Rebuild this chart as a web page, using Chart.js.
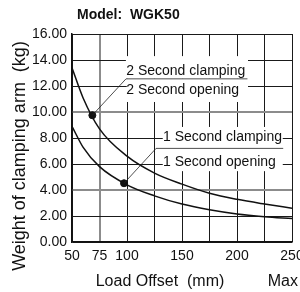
<!DOCTYPE html>
<html>
<head>
<meta charset="utf-8">
<script src="https://cdn.jsdelivr.net/npm/chart.js@4.4.0/dist/chart.umd.min.js"></script>
<style>
  body { margin: 0; background: #fff; }
  #wrap { width: 300px; height: 292px; }
</style>
</head>
<body>
<div id="wrap"><canvas id="myChart" width="300" height="292"></canvas></div>
<script>
// values
var loadOffset = [50, 60, 75, 100, 125, 150, 175, 200, 225, 250];
var twoSecond = [13.4, 11.1, 8.7, 6.6, 5.3, 4.45, 3.75, 3.28, 2.92, 2.6];
var oneSecond = [8.9, 7.3, 5.8, 4.4, 3.55, 2.92, 2.48, 2.16, 1.95, 1.8];
var markerX = [68.5, 97.3];
var markerY = [9.75, 4.52];
var xTickLabels = [50, 75, 100, 150, 200, 250];
var noteText = [
    ['2 Second clamping', '2 Second opening'],
    ['1 Second clamping', '1 Second opening']
];

var FONT = '"Liberation Sans", Arial, sans-serif';

function toPoints(xs, ys) {
    return xs.map(function (x, i) { return { x: x, y: ys[i] }; });
}

// leader lines + labels, placed in data units
var notes = [
    { point: 0, elbow: [99.1, 12.55], lineEnd: 209.5, textX: 99.3, textY: [13.18, 11.69],
      boxes: [[99.0, 210, 14.3, 12.55], [99.8, 210, 12.55, 10.77]] },
    { point: 1, elbow: [126.4, 7.2], lineEnd: 242, textX: 132.7, textY: [8.08, 6.15],
      boxes: [[132.5, 241.6, 8.85, 5.45]] }
];

var notePlugin = {
    id: 'notes',
    afterDatasetsDraw: function (chart) {
        var ctx = chart.ctx;
        var xs = chart.scales.x, ys = chart.scales.y;
        ctx.save();
        notes.forEach(function (n, k) {
            ctx.fillStyle = '#fff';
            n.boxes.forEach(function (b) {
                var x0 = xs.getPixelForValue(b[0]), x1 = xs.getPixelForValue(b[1]);
                var y0 = ys.getPixelForValue(b[2]), y1 = ys.getPixelForValue(b[3]);
                ctx.fillRect(x0, y0, x1 - x0, y1 - y0);
            });
            var px = xs.getPixelForValue(markerX[n.point]);
            var py = ys.getPixelForValue(markerY[n.point]);
            var ex = xs.getPixelForValue(n.elbow[0]);
            var ey = ys.getPixelForValue(n.elbow[1]);
            var lx = xs.getPixelForValue(n.lineEnd);
            ctx.strokeStyle = '#222';
            ctx.lineWidth = 0.8;
            ctx.beginPath();
            ctx.moveTo(px, py);
            ctx.lineTo(ex, ey);
            ctx.lineTo(lx, ey);
            ctx.stroke();
            ctx.fillStyle = '#111';
            ctx.font = '14px ' + FONT;
            ctx.textAlign = 'left';
            ctx.textBaseline = 'middle';
            var tx = xs.getPixelForValue(n.textX);
            noteText[k].forEach(function (t, j) {
                ctx.fillText(t, tx, ys.getPixelForValue(n.textY[j]));
            });
        });
        ctx.restore();
    },
    afterDraw: function (chart) {
        var ctx = chart.ctx;
        var a = chart.chartArea;
        ctx.save();
        ctx.fillStyle = '#111';
        ctx.textBaseline = 'middle';
        // title
        ctx.font = 'bold 14px ' + FONT;
        ctx.textAlign = 'left';
        ctx.fillText('Model:  WGK50', a.left + 5, 15);
        // x axis title
        ctx.font = '16px ' + FONT;
        ctx.textAlign = 'center';
        ctx.fillText('Load Offset  (mm)', a.left + 88, 282);
        ctx.textAlign = 'right';
        ctx.fillText('Max', chart.width - 2, 282);
        // y axis title
        ctx.translate(20, 156);
        ctx.rotate(-Math.PI / 2);
        ctx.font = '18px ' + FONT;
        ctx.textAlign = 'center';
        ctx.fillText('Weight of clamping arm  (kg)', 0, 0);
        ctx.restore();
    }
};

var ctx = document.getElementById('myChart').getContext('2d');
var myChart = new Chart(ctx, {
    type: 'line',
    data: {
        datasets: [
            {
                label: '2 Second',
                data: toPoints(loadOffset, twoSecond),
                borderColor: '#111',
                borderWidth: 1.5,
                pointRadius: 0,
                cubicInterpolationMode: 'monotone'
            },
            {
                label: '1 Second',
                data: toPoints(loadOffset, oneSecond),
                borderColor: '#111',
                borderWidth: 1.5,
                pointRadius: 0,
                cubicInterpolationMode: 'monotone'
            },
            {
                type: 'scatter',
                label: 'points',
                data: toPoints(markerX, markerY),
                backgroundColor: '#111',
                borderColor: '#111',
                pointRadius: 3.5
            }
        ]
    },
    options: {
        responsive: false,
        animation: false,
        layout: {
            padding: { top: 34, right: 8, bottom: 0, left: 0 }
        },
        plugins: {
            legend: { display: false },
            title: { display: false },
            tooltip: { enabled: false }
        },
        scales: {
            x: {
                type: 'linear',
                min: 50,
                max: 250,
                afterFit: function (scale) {
                    scale.height = 50;
                    scale.paddingLeft = 0;
                    scale.paddingRight = 0;
                },
                ticks: {
                    stepSize: 25,
                    autoSkip: false,
                    maxRotation: 0,
                    padding: 6,
                    color: '#111',
                    font: { family: FONT, size: 14 },
                    callback: function (v) {
                        return xTickLabels.indexOf(v) >= 0 ? String(v) : '';
                    }
                },
                grid: {
                    drawTicks: false,
                    color: function (c) { return c.tick && c.tick.value === 75 ? '#8c8c8c' : '#1a1a1a'; },
                    lineWidth: function (c) { return c.tick && c.tick.value === 75 ? 2 : 1; }
                },
                border: { color: '#111', width: 1.5 }
            },
            y: {
                min: 0,
                max: 16,
                afterFit: function (scale) {
                    scale.width = 72;
                },
                ticks: {
                    stepSize: 2,
                    padding: 5,
                    color: '#111',
                    font: { family: FONT, size: 14 },
                    callback: function (v) { return v.toFixed(2); }
                },
                grid: {
                    drawTicks: false,
                    color: function (c) {
                        var v = c.tick && c.tick.value;
                        return (v === 10 || v === 4) ? '#8c8c8c' : '#1a1a1a';
                    },
                    lineWidth: function (c) {
                        var v = c.tick && c.tick.value;
                        return (v === 10 || v === 4) ? 2 : 1;
                    }
                },
                border: { color: '#111', width: 1.5 }
            }
        }
    },
    plugins: [notePlugin]
});
</script>
</body>
</html>
